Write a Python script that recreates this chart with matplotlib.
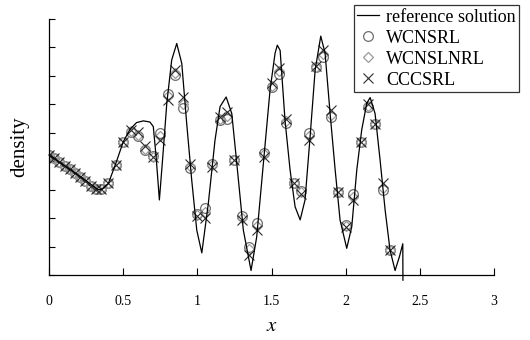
import numpy as np
import matplotlib
matplotlib.use("Agg")
import matplotlib.pyplot as plt

plt.rcParams["font.family"] = ["Liberation Serif", "DejaVu Serif"]
plt.rcParams["mathtext.fontset"] = "stix"

# reference solution
ref_x = [0.0, 0.05, 0.10, 0.15, 0.20, 0.25, 0.30, 0.33, 0.36, 0.40, 0.45, 0.50,
         0.546, 0.59, 0.636, 0.68, 0.703, 0.722, 0.744, 0.767, 0.794, 0.827,
         0.861, 0.895, 0.928, 0.962, 0.996, 1.03, 1.074, 1.119, 1.153, 1.194,
         1.232, 1.266, 1.31, 1.362, 1.40, 1.445, 1.49, 1.524, 1.539, 1.558,
         1.591, 1.625, 1.659, 1.693, 1.726, 1.76, 1.794, 1.832, 1.861, 1.895,
         1.929, 1.962, 2.007, 2.041, 2.075, 2.108, 2.142, 2.165, 2.198, 2.232,
         2.266, 2.299, 2.333, 2.362, 2.385, 2.386]
ref_y = [2.11, 2.02, 1.93, 1.84, 1.75, 1.66, 1.56, 1.50, 1.51, 1.61, 1.96, 2.34,
         2.56, 2.68, 2.71, 2.69, 2.61, 2.08, 1.32, 2.08, 3.02, 3.78,
         4.07, 3.72, 2.67, 1.67, 0.79, 0.39, 1.26, 2.37, 2.96, 3.13,
         2.84, 1.96, 0.79, 0.08, 0.67, 1.96, 3.25, 3.90, 4.04, 3.95,
         2.72, 1.85, 1.20, 0.97, 1.32, 2.43, 3.60, 4.20, 3.90, 2.84,
         1.85, 0.97, 0.47, 0.85, 1.85, 2.55, 3.02, 3.12, 2.84, 2.02,
         1.14, 0.44, 0.08, 0.32, 0.55, -0.09]

# sample locations of the numerical schemes
pts_x = [0.0, 0.035, 0.07, 0.105, 0.14, 0.175, 0.21, 0.245, 0.28, 0.315, 0.35,
         0.40, 0.45, 0.50, 0.55, 0.60, 0.65, 0.70, 0.75, 0.80, 0.85, 0.90,
         0.95, 1.00, 1.05, 1.10, 1.15, 1.20, 1.25, 1.30, 1.35, 1.40, 1.45,
         1.50, 1.55, 1.60, 1.65, 1.70, 1.75, 1.80, 1.85, 1.90, 1.95, 2.00,
         2.05, 2.10, 2.15, 2.20, 2.25, 2.30]
wcnsrl = [2.11, 2.05, 1.99, 1.92, 1.86, 1.79, 1.72, 1.65, 1.57, 1.51, 1.52,
          1.61, 1.93, 2.33, 2.52, 2.44, 2.19, 2.09, 2.49, 3.19, 3.52, 2.93,
          1.88, 1.08, 1.17, 1.96, 2.72, 2.74, 2.02, 1.03, 0.50, 0.92, 2.15,
          3.30, 3.54, 2.68, 1.62, 1.48, 2.49, 3.66, 3.83, 2.77, 1.46, 0.88,
          1.42, 2.34, 2.96, 2.65, 1.49, 0.44]
wcnslnrl = [2.11, 2.05, 1.99, 1.92, 1.86, 1.79, 1.72, 1.65, 1.57, 1.51, 1.52,
            1.61, 1.93, 2.33, 2.53, 2.47, 2.22, 2.08, 2.45, 3.15, 3.55, 3.00,
            1.91, 1.06, 1.10, 1.94, 2.74, 2.79, 2.02, 1.01, 0.45, 0.87, 2.13,
            3.32, 3.58, 2.70, 1.62, 1.46, 2.45, 3.66, 3.88, 2.82, 1.46, 0.86,
            1.38, 2.34, 2.98, 2.65, 1.53, 0.44]
cccsrl = [2.11, 2.05, 1.99, 1.92, 1.86, 1.79, 1.72, 1.65, 1.57, 1.51, 1.52,
          1.61, 1.93, 2.33, 2.55, 2.52, 2.26, 2.07, 2.37, 3.08, 3.60, 3.13,
          1.96, 1.03, 1.00, 1.90, 2.78, 2.87, 2.02, 0.97, 0.35, 0.79, 2.08,
          3.37, 3.64, 2.74, 1.62, 1.42, 2.37, 3.67, 3.95, 2.90, 1.46, 0.84,
          1.32, 2.34, 3.01, 2.65, 1.61, 0.44]

fig = plt.figure(figsize=(5.3, 3.4), dpi=100)
ax = fig.add_axes([0.0925, 0.191, 0.8396, 0.753])

ax.plot(ref_x, ref_y, color="black", lw=0.9, clip_on=False, zorder=3,
        label="reference solution")
ax.plot(pts_x, wcnsrl, ls="none", marker="o", ms=7, mfc="none", mec="#6e6e6e",
        mew=0.9, label="WCNSRL")
ax.plot(pts_x, wcnslnrl, ls="none", marker="D", ms=5, mfc="none", mec="#9a9a9a",
        mew=0.9, label="WCNSLNRL")
ax.plot(pts_x, cccsrl, ls="none", marker="x", ms=7.5, color="#2a2a2a",
        mew=0.8, label="CCCSRL")

ax.set_xlim(0, 3)
ax.set_ylim(0, 4.5)
ax.set_xticks([0, 0.5, 1, 1.5, 2, 2.5, 3])
ax.set_xticklabels(["0", "0.5", "1", "1.5", "2", "2.5", "3"])
ax.set_yticks(np.arange(0, 4.51, 0.5))
ax.set_yticklabels([])
ax.tick_params(direction="in", length=5, width=0.8, labelsize=10, pad=14)
ax.tick_params(axis="y", length=4, pad=2)
ax.spines["top"].set_visible(False)
ax.spines["right"].set_visible(False)
for s in ("left", "bottom"):
    ax.spines[s].set_linewidth(0.9)

ax.set_xlabel("$x$", fontsize=15, labelpad=7)
ax.set_ylabel("density", fontsize=15, labelpad=12)

leg = fig.legend(loc="upper right", bbox_to_anchor=(0.98, 0.985),
                 fontsize=13, frameon=True, fancybox=False, edgecolor="black",
                 handlelength=1.2, handletextpad=0.4, borderpad=0.2,
                 labelspacing=0.22, borderaxespad=0)
leg.get_frame().set_linewidth(0.9)

fig.savefig("out.png", dpi=100)
